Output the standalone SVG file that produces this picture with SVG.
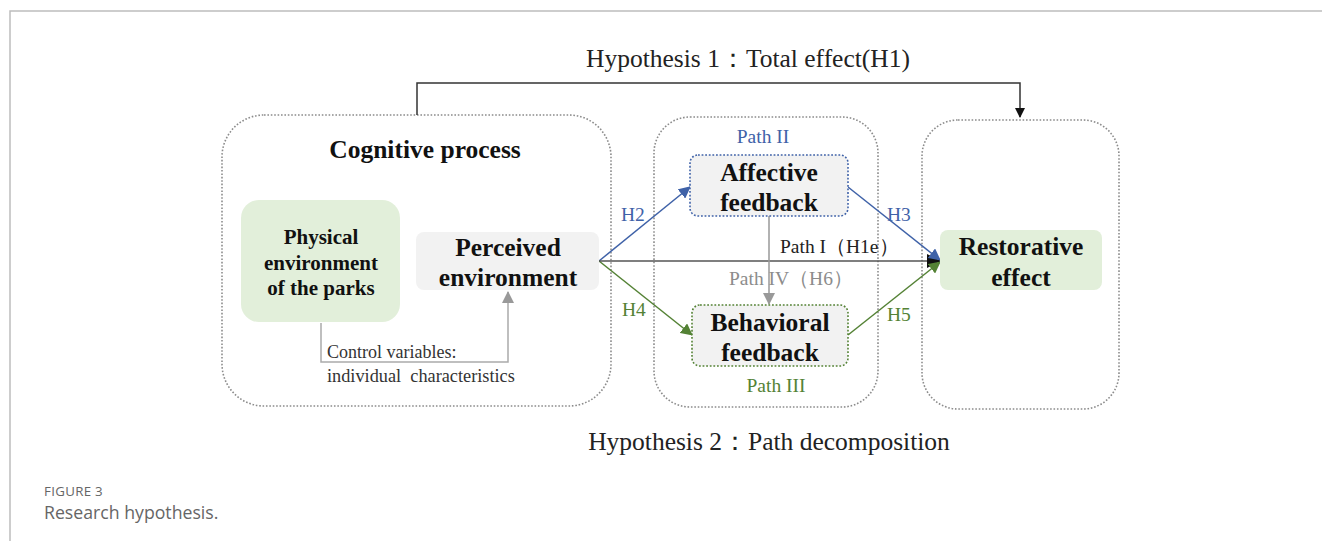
<svg xmlns="http://www.w3.org/2000/svg" width="1322" height="541" viewBox="0 0 1322 541">
<style>
.serif{font-family:"Liberation Serif","Times New Roman",serif;}
.b{font-weight:bold;fill:#111;}
.cont{fill:none;stroke:#8c8c8c;stroke-width:1.6;stroke-dasharray:1.6 1.8;}
.lbl{font-size:19.5px;}
</style>
<defs>
<marker id="ak" markerWidth="10" markerHeight="10" refX="9" refY="5" orient="auto" markerUnits="userSpaceOnUse"><path d="M0,0 L10,5 L0,10 z" fill="#111"/></marker>
<marker id="ab" markerWidth="12" markerHeight="12" refX="11" refY="6" orient="auto" markerUnits="userSpaceOnUse"><path d="M0,0 L12,6 L0,12 z" fill="#3f62a8"/></marker>
<marker id="ag" markerWidth="12" markerHeight="12" refX="11" refY="6" orient="auto" markerUnits="userSpaceOnUse"><path d="M0,0 L12,6 L0,12 z" fill="#548235"/></marker>
<marker id="agr" markerWidth="12" markerHeight="12" refX="11" refY="6" orient="auto" markerUnits="userSpaceOnUse"><path d="M0,0 L12,6 L0,12 z" fill="#999"/></marker>
<marker id="ablk" markerWidth="14" markerHeight="14" refX="13" refY="7" orient="auto" markerUnits="userSpaceOnUse"><path d="M0,0 L14,7 L0,14 z" fill="#111"/></marker>
</defs>
<rect width="1322" height="541" fill="#fff"/>
<path d="M10,541 V11 H1322" fill="none" stroke="#bdbdbd" stroke-width="1.5"/>

<g id="titles" class="serif" fill="#222">
<text x="748" y="67" font-size="25.5" text-anchor="middle">Hypothesis 1：Total effect(H1)</text>
<text x="769" y="450" font-size="25.5" text-anchor="middle">Hypothesis 2：Path decomposition</text>
</g>

<g id="containers">
<rect class="cont" x="222" y="115" width="389" height="291" rx="42"/>
<rect class="cont" x="654" y="117" width="224" height="290" rx="36"/>
<rect class="cont" x="922" y="120" width="197" height="289" rx="36"/>
<text class="serif b" x="425" y="158" font-size="25.5" text-anchor="middle">Cognitive process</text>
</g>

<g id="connectors" fill="none">
<path d="M417,115 V83 H1020 V117" stroke="#333" stroke-width="1.5" marker-end="url(#ak)"/>
<path d="M321,323 V362 H508 V292" stroke="#aaa" stroke-width="1.5" marker-end="url(#agr)"/>
<path d="M599,261 L690,187" stroke="#3f62a8" stroke-width="1.5" marker-end="url(#ab)"/>
<path d="M599,261 L692,335" stroke="#548235" stroke-width="1.5" marker-end="url(#ag)"/>
<path d="M599,261 H940" stroke="#555" stroke-width="1.5" marker-end="url(#ablk)"/>
<path d="M848,187 L940,260" stroke="#3f62a8" stroke-width="1.5" marker-end="url(#ab)"/>
<path d="M848,335 L940,262" stroke="#548235" stroke-width="1.5" marker-end="url(#ag)"/>
<path d="M769,216 V304" stroke="#999" stroke-width="1.5" marker-end="url(#agr)"/>
<g class="serif lbl">
<text x="621" y="221" fill="#3f62a8">H2</text>
<text x="622" y="316" fill="#548235">H4</text>
<text x="887" y="221" fill="#3f62a8">H3</text>
<text x="887" y="321" fill="#548235">H5</text>
<text x="780" y="253" fill="#222">Path I（H1e）</text>
<text x="729" y="285" fill="#8c8c8c">Path IV（H6）</text>
<text x="763" y="143" fill="#3f62a8" text-anchor="middle">Path II</text>
<text x="776" y="392" fill="#548235" text-anchor="middle">Path III</text>
<text x="327" y="358" fill="#333" font-size="18">Control variables:</text>
<text x="327" y="382" fill="#333" font-size="18.3" xml:space="preserve">individual  characteristics</text>
</g>
</g>

<g id="physical">
<rect x="241" y="200" width="159" height="122" rx="18" fill="#e2efda"/>
<text class="serif b" font-size="21" text-anchor="middle"><tspan x="321" y="244">Physical</tspan><tspan x="321" y="270">environment</tspan><tspan x="321" y="295">of the parks</tspan></text>
</g>

<g id="perceived">
<rect x="416" y="232" width="183" height="58" rx="8" fill="#f2f2f2"/>
<text class="serif b" font-size="25.5" text-anchor="middle"><tspan x="508" y="256">Perceived</tspan><tspan x="508" y="286">environment</tspan></text>
</g>

<g id="affective">
<rect x="690" y="155" width="158" height="61" rx="8" fill="#f2f2f2" stroke="#3f62a8" stroke-width="1.6" stroke-dasharray="1.8 1.8"/>
<text class="serif b" font-size="25.5" text-anchor="middle"><tspan x="769" y="181">Affective</tspan><tspan x="769" y="211">feedback</tspan></text>
</g>

<g id="behavioral">
<rect x="692" y="305" width="156" height="61" rx="8" fill="#f2f2f2" stroke="#548235" stroke-width="1.6" stroke-dasharray="1.8 1.8"/>
<text class="serif b" font-size="25.5" text-anchor="middle"><tspan x="770" y="331">Behavioral</tspan><tspan x="770" y="361">feedback</tspan></text>
</g>

<g id="restorative">
<rect x="940" y="230" width="162" height="60" rx="8" fill="#e2efda"/>
<text class="serif b" font-size="25.5" text-anchor="middle"><tspan x="1021" y="255">Restorative</tspan><tspan x="1021" y="286">effect</tspan></text>
</g>

<g id="caption" font-family="'Open Sans','Liberation Sans',sans-serif" fill="#666">
<text x="44" y="496" font-size="13.3" letter-spacing="0.3">FIGURE 3</text>
<text x="44" y="519" font-size="17.7">Research hypothesis.</text>
</g>
</svg>
